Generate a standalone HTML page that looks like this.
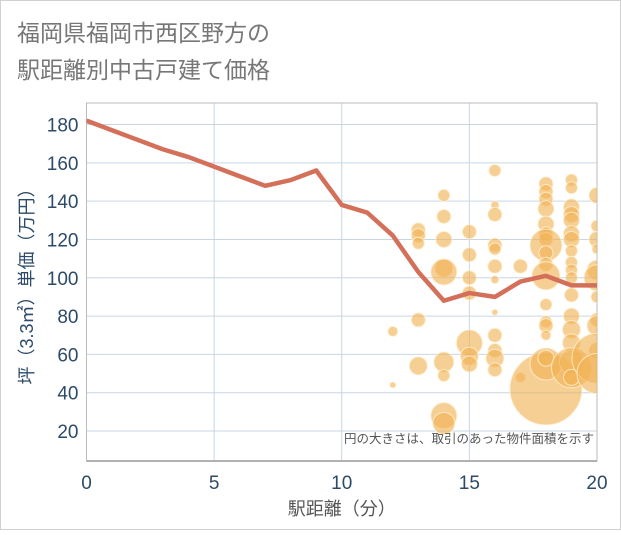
<!DOCTYPE html>
<html><head><meta charset="utf-8">
<style>
html,body{margin:0;padding:0;background:#fff;}
body{width:621px;height:530px;overflow:hidden;font-family:"Liberation Sans","Noto Sans CJK JP",sans-serif;}
</style></head>
<body>
<svg width="621" height="530" xmlns="http://www.w3.org/2000/svg" style="font-family:'Liberation Sans','Noto Sans CJK JP',sans-serif">
<rect x="0.5" y="0.5" width="620" height="529" fill="#fff" stroke="#d0d0d0"/>
<text x="17" y="41" font-size="23" fill="#777">福岡県福岡市西区野方の</text>
<text x="17" y="78" font-size="23" fill="#777">駅距離別中古戸建て価格</text>
<g id="plot"></g>
</svg>
<script>
const xTicks=[0,5,10,15,20];
const yTicks=[20,40,60,80,100,120,140,160,180];
const lineX=[0,1,2,3,4,5,6,7,8,9,10,11,12,13,14,15,16,17,18,19,20];
const lineY=[182,177,172,167,163,158,153,148,151,156,138,134,122,103,88,92,90,98,101,96,96];
const bubX=[12,12,13,13,13,13,13,14,14,14,14,14,14,14,14,14,15,15,15,15,15,15,15,16,16,16,16,16,16,16,16,16,16,16,16,17,17,18,18,18,18,18,18,18,18,18,18,18,18,18,18,18,18,18,18,19,19,19,19,19,19,19,19,19,19,19,19,19,19,19,19,19,19,20,20,20,20,20,20,20,20,20,20,20,20];
const bubY=[72,44,125,122,118,78,54,143,132,120,105,103,56,49,28,24,124,112,100,92,66,59,55,156,138,133,117,115,106,99,82,70,62,58,52,106,48,149,145,141,136,128,123,120,117,113,107,101,86,77,75,70,42,55,58,151,147,137,133,130,123,120,114,108,104,100,91,80,73,66,56,53,48,143,127,120,115,104,100,90,78,75,62,58,50];
const bubR=[5,3,7,7,6,7,9,6,7,8,9,13,10,6,13,11,7,7,7,7,13,9,8,6,4,7,7,6,7,4,3,7,7,9,7,7,5,7,7,7,8,8,7,7,16,7,7,14,6,6,7,5,36,16,8,6,6,8,8,8,8,8,6,6,6,6,7,8,9,9,12,20,8,8,6,8,5,10,13,6,7,10,8,25,20];
const L=86.5,R=597,T=103,B=461;
const sx=v=>L+(v-0)/(20-0)*(R-L);
const sy=v=>431-(v-20)/(180-20)*(431-124.5);
const NS='http://www.w3.org/2000/svg';
const g=document.getElementById('plot');
function mk(t,a,p){const e=document.createElementNS(NS,t);for(const k in a)e.setAttribute(k,a[k]);(p||g).appendChild(e);return e;}
const cp=mk('clipPath',{id:'cp'});mk('rect',{x:L,y:T,width:R-L,height:B-T},cp);
yTicks.forEach(v=>{const l=mk('line',{x1:L,x2:R,y1:sy(v),y2:sy(v),stroke:'#c8d6e4','stroke-width':1});

const t=mk('text',{x:L-8,y:sy(v)+7,'text-anchor':'end','font-size':19,fill:'#2d4a68'});t.textContent=v;
});
xTicks.forEach(v=>{const l=mk('line',{x1:sx(v),x2:sx(v),y1:T,y2:B,stroke:'#c8d6e4','stroke-width':1});

const t=mk('text',{x:sx(v),y:489,'text-anchor':'middle','font-size':19,fill:'#2d4a68'});t.textContent=v;
});
const fr=mk('rect',{x:L,y:T,width:R-L,height:B-T,fill:'none',stroke:'#bbb','stroke-width':1});

const ax=mk('line',{x1:L,x2:R,y1:B,y2:B,stroke:'#999','stroke-width':1.5});

const bg=mk('g',{'clip-path':'url(#cp)'});

bubX.forEach((x,i)=>{const c=mk('circle',{cx:sx(x),cy:sy(bubY[i]),r:bubR[i],fill:'rgba(240,178,84,0.62)',stroke:'rgba(255,240,210,0.8)','stroke-width':1},bg);
});
const pts=lineX.map((x,i)=>sx(x)+','+sy(lineY[i])).join(' ');
const pl=mk('polyline',{points:pts,fill:'none',stroke:'#d4705a','stroke-width':4.5,'stroke-linejoin':'round','clip-path':'url(#cp)'});

const note=mk('text',{x:594,y:443,'text-anchor':'end','font-size':12.5,fill:'#555'});note.textContent='円の大きさは、取引のあった物件面積を示す';

const xt=mk('text',{x:sx(10),y:515,'text-anchor':'middle','font-size':18,fill:'#555'});xt.textContent='駅距離（分）';

const yt=mk('text',{x:0,y:0,'text-anchor':'middle','font-size':18,fill:'#2d4a68',transform:'translate(33,282) rotate(-90)'});yt.textContent='坪（3.3㎡）単価（万円）';

</script>
</body></html>
